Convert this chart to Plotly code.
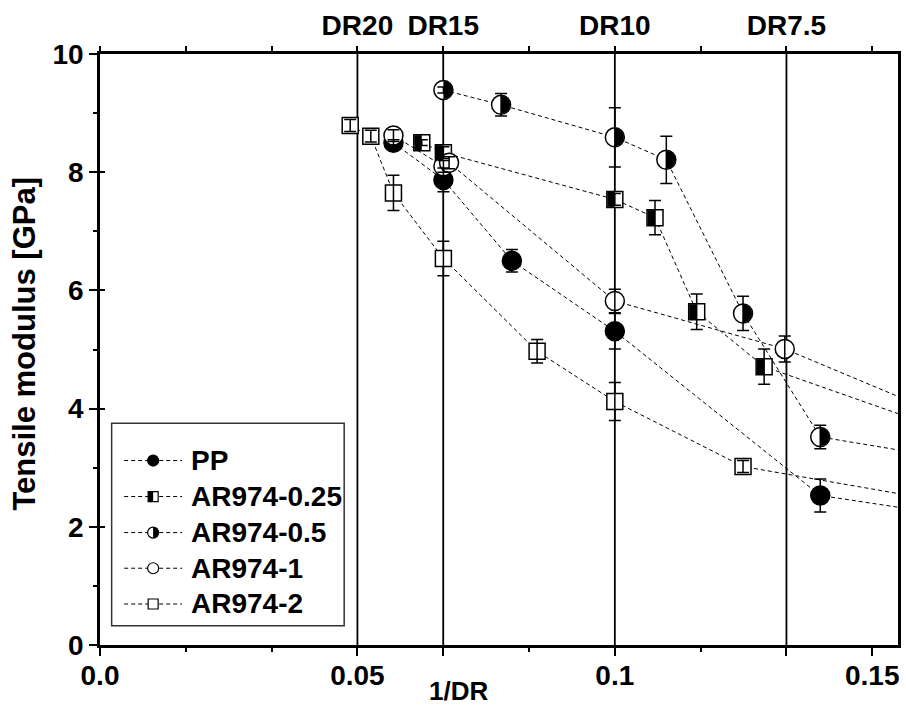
import plotly.graph_objects as go

# ---------------- data ----------------
DR = [20, 15, 10, 7.5]
DR_LABELS = ["DR20", "DR15", "DR10", "DR7.5"]
dr_x = [1.0 / d for d in DR]

series_names = ["PP", "AR974-0.25", "AR974-0.5", "AR974-1", "AR974-2"]

pp_x = [0.0570, 0.0667, 0.0800, 0.1000, 0.1399, 0.2000]
pp_y = [8.50, 7.87, 6.50, 5.31, 2.53, 1.74]
pp_err = [0.05, 0.20, 0.19, 0.30, 0.28, 0.0]

ar025_x = [0.0625, 0.0667, 0.1000, 0.1078, 0.1159, 0.1290, 0.2000]
ar025_y = [8.50, 8.33, 7.54, 7.23, 5.64, 4.71, 2.54]
ar025_err = [0.05, 0.10, 0.10, 0.29, 0.30, 0.30, 0.0]

ar05_x = [0.0667, 0.0779, 0.1000, 0.1100, 0.1249, 0.1399, 0.2000]
ar05_y = [9.39, 9.14, 8.59, 8.21, 5.61, 3.52, 2.65]
ar05_err = [0.05, 0.19, 0.50, 0.40, 0.29, 0.20, 0.0]

ar1_x = [0.0570, 0.0667, 0.0678, 0.1000, 0.1330, 0.2000]
ar1_y = [8.62, 8.10, 8.16, 5.82, 5.01, 2.56]
ar1_err = [0.10, 0.10, 0.10, 0.20, 0.22, 0.0]

ar2_x = [0.0486, 0.0526, 0.0570, 0.0667, 0.0849, 0.1000, 0.1249, 0.2000]
ar2_y = [8.79, 8.61, 7.65, 6.54, 4.97, 4.12, 3.02, 1.88]
ar2_err = [0.10, 0.10, 0.30, 0.29, 0.20, 0.32, 0.10, 0.0]

x_ticks = [0, 0.05, 1 / 15, 0.1, 2 / 15, 0.15]
x_ticktext = ["0.0", "0.05", "", "0.1", "", "0.15"]
x_minor = [1 / 60, 2 / 60, 5 / 60, 7 / 60]
top_minor = [i / 60 for i in range(0, 10)]
y_ticks = [0, 2, 4, 6, 8, 10]
y_minor = [1, 3, 5, 7, 9]
X_RANGE = [0, 0.155]
Y_RANGE = [0, 10]

# ---------------- styles ----------------
FONT = "Liberation Sans, Arial, sans-serif"
CIRC = 19
SQ = 16
styles = {
    "PP": dict(symbol="circle", size=CIRC, color="black", half=None),
    "AR974-0.25": dict(symbol="square", size=SQ, color="white", half="left"),
    "AR974-0.5": dict(symbol="circle", size=CIRC, color="white", half="right"),
    "AR974-1": dict(symbol="circle", size=CIRC, color="white", half=None),
    "AR974-2": dict(symbol="square", size=SQ, color="white", half=None),
}
data = {
    "PP": (pp_x, pp_y, pp_err),
    "AR974-0.25": (ar025_x, ar025_y, ar025_err),
    "AR974-0.5": (ar05_x, ar05_y, ar05_err),
    "AR974-1": (ar1_x, ar1_y, ar1_err),
    "AR974-2": (ar2_x, ar2_y, ar2_err),
}

fig = go.Figure()

# dashed connecting lines (all below markers)
for name in series_names:
    x, y, e = data[name]
    fig.add_trace(go.Scatter(x=x, y=y, mode="lines",
                             line=dict(color="black", width=1, dash="4px,3px"),
                             hoverinfo="skip", showlegend=False))

# markers
for name in series_names:
    x, y, e = data[name]
    st = styles[name]
    fig.add_trace(go.Scatter(x=x, y=y, mode="markers", name=name,
                             marker=dict(symbol=st["symbol"], size=st["size"], color=st["color"],
                                         line=dict(color="black", width=1.5)),
                             showlegend=False))

# error bars on top
for name in series_names:
    x, y, e = data[name]
    fig.add_trace(go.Scatter(x=x, y=y, mode="markers",
                             marker=dict(size=1, color="rgba(0,0,0,0)"),
                             error_y=dict(type="data", array=e, symmetric=True, color="black",
                                          thickness=1.5, width=6),
                             hoverinfo="skip", showlegend=False))

# dummy traces so the overlay axes exist
fig.add_trace(go.Scatter(x=[X_RANGE[0]], y=[Y_RANGE[0]], xaxis="x2", yaxis="y", mode="markers",
                         marker=dict(size=1, color="rgba(0,0,0,0)"), hoverinfo="skip", showlegend=False))
fig.add_trace(go.Scatter(x=[X_RANGE[0]], y=[Y_RANGE[0]], xaxis="x", yaxis="y2", mode="markers",
                         marker=dict(size=1, color="rgba(0,0,0,0)"), hoverinfo="skip", showlegend=False))

shapes = []
# vertical DR lines
for xv in dr_x:
    shapes.append(dict(type="line", xref="x", yref="paper", x0=xv, x1=xv, y0=0, y1=1,
                       line=dict(color="black", width=1.8), layer="below"))


def half_path(kind, half, s):
    r = s / 2.0
    if kind == "square":
        if half == "left":
            return f"M {-r},{-r} L 0,{-r} L 0,{r} L {-r},{r} Z"
        return f"M 0,{-r} L {r},{-r} L {r},{r} L 0,{r} Z"
    k = 0.5523 * r
    sgn = 1 if half == "right" else -1
    return (f"M 0,{-r} C {sgn*k},{-r} {sgn*r},{-k} {sgn*r},0 "
            f"C {sgn*r},{k} {sgn*k},{r} 0,{r} Z")


# half-filled markers in the plot
for name in series_names:
    st = styles[name]
    if st["half"] is None:
        continue
    x, y, e = data[name]
    for xv, yv in zip(x, y):
        if not (X_RANGE[0] <= xv <= X_RANGE[1]):
            continue
        shapes.append(dict(type="path", xref="x", yref="y", xsizemode="pixel", ysizemode="pixel",
                           xanchor=xv, yanchor=yv,
                           path=half_path(st["symbol"], st["half"], st["size"] - 1),
                           fillcolor="black", line=dict(width=0)))

# manual legend
LEG_X0, LEG_X1, LEG_Y0, LEG_Y1 = 0.0146, 0.306, 0.0327, 0.3754
shapes.append(dict(type="rect", xref="paper", yref="paper", x0=LEG_X0, x1=LEG_X1, y0=LEG_Y0, y1=LEG_Y1,
                   line=dict(color="#333333", width=1.5), fillcolor="white", layer="above"))
leg_rows = [0.3121, 0.2512, 0.1902, 0.1299, 0.0694]
annotations = []
for name, ly in zip(series_names, leg_rows):
    st = styles[name]
    shapes.append(dict(type="line", xref="paper", yref="paper", x0=0.0303, x1=0.1028, y0=ly, y1=ly,
                       line=dict(color="black", width=1, dash="4px,3px")))
    s = 11 if st["symbol"] == "circle" else 10
    r = s / 2.0
    shapes.append(dict(type="circle" if st["symbol"] == "circle" else "rect",
                       xref="paper", yref="paper", xsizemode="pixel", ysizemode="pixel",
                       xanchor=0.0666, yanchor=ly, x0=-r, x1=r, y0=-r, y1=r,
                       fillcolor=st["color"], line=dict(color="black", width=1.2)))
    if st["half"]:
        shapes.append(dict(type="path", xref="paper", yref="paper", xsizemode="pixel", ysizemode="pixel",
                           xanchor=0.0666, yanchor=ly, path=half_path(st["symbol"], st["half"], s),
                           fillcolor="black", line=dict(width=0)))
    annotations.append(dict(text=name, xref="paper", yref="paper", x=0.1112, y=ly,
                            xanchor="left", yanchor="middle", showarrow=False,
                            font=dict(family=FONT, size=28, color="black", weight="bold")))

# axis titles
annotations.append(dict(text="1/DR", xref="paper", yref="paper", x=0.449, y=-0.077,
                        xanchor="center", yanchor="middle", showarrow=False,
                        font=dict(family=FONT, size=26, color="black", weight="bold")))
annotations.append(dict(text="Tensile modulus [GPa]", xref="paper", yref="paper", x=-0.094, y=0.51,
                        xanchor="center", yanchor="middle", textangle=-90, showarrow=False,
                        font=dict(family=FONT, size=31, color="black", weight="bold")))

tickfont = dict(family=FONT, size=28, color="black", weight="bold")
fig.update_layout(
    width=906, height=709,
    margin=dict(l=100, r=5, t=54, b=64),
    plot_bgcolor="white", paper_bgcolor="white",
    showlegend=False,
    shapes=shapes, annotations=annotations,
    xaxis=dict(range=X_RANGE, tickmode="array", tickvals=x_ticks, ticktext=x_ticktext,
               ticks="outside", ticklen=8, tickwidth=2, tickcolor="black",
               showline=True, linewidth=2.5, linecolor="black", mirror=False,
               showgrid=False, zeroline=False, tickfont=tickfont, ticklabelstandoff=-4,
               minor=dict(tickmode="array", tickvals=x_minor, ticks="outside", ticklen=4,
                          tickwidth=2, tickcolor="black", showgrid=False)),
    xaxis2=dict(range=X_RANGE, overlaying="x", side="top", anchor="y",
                tickmode="array", tickvals=dr_x, ticktext=DR_LABELS,
                ticks="outside", ticklen=5, tickwidth=2, tickcolor="black",
                showline=True, linewidth=2.5, linecolor="black",
                showgrid=False, zeroline=False, tickfont=tickfont,
                minor=dict(tickmode="array", tickvals=top_minor, ticks="outside", ticklen=5,
                           tickwidth=2, tickcolor="black", showgrid=False)),
    yaxis=dict(range=Y_RANGE, tickmode="array", tickvals=y_ticks,
               ticks="outside", ticklen=8, tickwidth=2, tickcolor="black",
               showline=True, linewidth=2.5, linecolor="black", mirror=True,
               showgrid=False, zeroline=False, tickfont=tickfont,
               minor=dict(tickmode="array", tickvals=y_minor, ticks="outside", ticklen=4,
                          tickwidth=2, tickcolor="black", showgrid=False)),
    yaxis2=dict(range=Y_RANGE, overlaying="y", side="left", anchor="x",
                tickmode="array", tickvals=y_ticks, ticks="inside", ticklen=5, tickwidth=2,
                tickcolor="black", showticklabels=False, showline=False,
                showgrid=False, zeroline=False),
)

fig.write_html("out.html")
